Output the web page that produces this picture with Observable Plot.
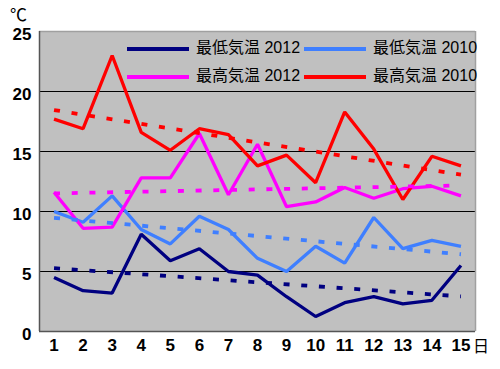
<!DOCTYPE html>
<html>
<head>
<meta charset="utf-8">
<script src="https://cdn.jsdelivr.net/npm/d3@7"></script>
<script src="https://cdn.jsdelivr.net/npm/@observablehq/plot@0.6"></script>
<style>
  html, body { margin: 0; padding: 0; background: #fff; }
  #wrap { position: relative; width: 500px; height: 369px; }
  .lg { position: absolute; font-family: "Liberation Sans", "Noto Sans CJK JP", sans-serif; font-size: 15px; color: #000; white-space: nowrap; line-height: 1; }
  .sw { position: absolute; height: 4px; }
</style>
</head>
<body>
<div id="wrap"></div>
<script>
const days = [1, 2, 3, 4, 5, 6, 7, 8, 9, 10, 11, 12, 13, 14, 15];
const min2012 = [4.5, 3.4, 3.2, 8.1, 5.9, 6.9, 5.0, 4.7, 2.9, 1.25, 2.4, 2.9, 2.3, 2.6, 5.5];
const min2010 = [10.0, 9.1, 11.3, 8.5, 7.3, 9.6, 8.5, 6.1, 5.0, 7.1, 5.7, 9.5, 6.9, 7.6, 7.1];
const max2012 = [11.6, 8.6, 8.7, 12.8, 12.8, 16.5, 11.4, 15.6, 10.4, 10.8, 12.0, 11.1, 11.9, 12.1, 11.3];
const max2010 = [17.7, 16.9, 23.0, 16.6, 15.1, 16.9, 16.4, 13.8, 14.7, 12.4, 18.3, 15.2, 11.0, 14.6, 13.8];
const seriesNames = ["最低気温 2012", "最低気温 2010", "最高気温 2012", "最高気温 2010"];
const seriesColors = ["#000080", "#3f7fff", "#ff00ff", "#ff0000"];
const yTicks = [0, 5, 10, 15, 20, 25];

const allSeries = [min2012, min2010, max2012, max2010];
const tables = allSeries.map(vals => days.map((d, i) => ({day: d, value: vals[i]})));

const marks = [
  Plot.frame({fill: "#c0c0c0", stroke: null}),
  Plot.ruleY([5, 10, 15, 20], {stroke: "#000", strokeWidth: 1}),
];
tables.forEach((t, i) => {
  marks.push(Plot.line(t, {x: "day", y: "value", stroke: seriesColors[i], strokeWidth: 3.3, strokeLinejoin: "miter", strokeLinecap: "butt"}));
});
tables.forEach((t, i) => {
  marks.push(Plot.linearRegressionY(t, {x: "day", y: "value", stroke: seriesColors[i], ci: 0, strokeWidth: 3.8, strokeDasharray: "6,11.7", strokeLinecap: "butt"}));
});
marks.push(
  Plot.ruleY([25], {stroke: "#a0a0a0", strokeWidth: 1.5}),
  Plot.ruleX([15.5], {stroke: "#a0a0a0", strokeWidth: 1.5}),
  Plot.ruleY([0], {stroke: "#555", strokeWidth: 1.5}),
  Plot.ruleX([0.5], {stroke: "#555", strokeWidth: 1.5}),
  Plot.axisY(yTicks, {tickSize: 0, tickPadding: 8, fontSize: 17, fontWeight: "bold", dy: 3, label: null, tickFormat: d => String(d)}),
  Plot.axisX(days, {tickSize: 0, tickPadding: 7, fontSize: 17, fontWeight: "bold", label: null, tickFormat: d => String(d)})
);

const chart = Plot.plot({
  width: 500,
  height: 369,
  marginLeft: 39,
  marginRight: 25,
  marginTop: 31,
  marginBottom: 38,
  x: {domain: [0.5, 15.5], axis: null, label: null},
  y: {domain: [0, 25], axis: null, label: null},
  style: {fontFamily: "'Liberation Sans', Arial, sans-serif", color: "#000", background: "#fff"},
  marks
});

const wrap = document.getElementById("wrap");
wrap.appendChild(chart);

function addText(txt, left, top, size, extra) {
  const el = document.createElement("div");
  el.className = "lg";
  el.textContent = txt;
  el.style.left = left + "px";
  el.style.top = top + "px";
  el.style.fontSize = size + "px";
  if (extra) Object.assign(el.style, extra);
  wrap.appendChild(el);
}
// legend
const legPos = [[127, 49], [304, 49], [127, 77], [304, 77]];
seriesNames.forEach((name, i) => {
  const [lx, ly] = legPos[i];
  const sw = document.createElement("div");
  sw.className = "sw";
  sw.style.left = lx + "px";
  sw.style.top = (ly - 2) + "px";
  sw.style.width = "62px";
  sw.style.background = seriesColors[i];
  wrap.appendChild(sw);
  addText(name, lx + 69, ly - 9, 16);
});
// unit labels
addText("℃", 10, 5, 17, {fontFamily: "'Noto Sans CJK JP', sans-serif"});
addText("日", 473, 337, 16, {fontFamily: "'Noto Sans CJK JP', sans-serif"});
</script>
</body>
</html>
